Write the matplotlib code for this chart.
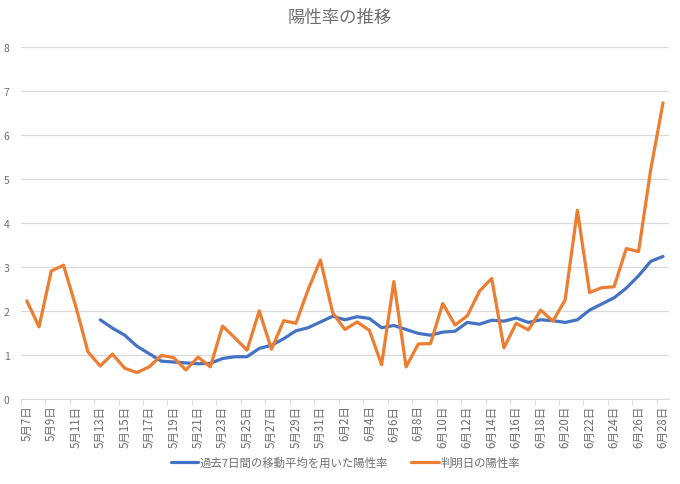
import numpy as np
import matplotlib
matplotlib.use("Agg")
import matplotlib.pyplot as plt

plt.rcParams['font.family'] = ['Noto Sans CJK JP', 'DejaVu Sans']

# dates 5/7 .. 6/28
dates = ["5月%d日" % d for d in range(7, 32)] + ["6月%d日" % d for d in range(1, 29)]

# 判明日の陽性率
daily = [2.23, 1.64, 2.91, 3.04, 2.11, 1.07, 0.75, 1.02, 0.70, 0.60,
         0.73, 0.99, 0.94, 0.66, 0.95, 0.73, 1.66, 1.39, 1.11, 2.00,
         1.13, 1.78, 1.72, 2.49, 3.16, 1.96, 1.58, 1.75, 1.56, 0.78,
         2.67, 0.73, 1.25, 1.26, 2.17, 1.68, 1.89, 2.45, 2.74, 1.16,
         1.72, 1.57, 2.02, 1.77, 2.25, 4.29, 2.42, 2.53, 2.55, 3.42,
         3.35, 5.22, 6.73]

# 過去7日間の移動平均 (starts 5/13)
avg7 = [np.nan] * 6 + [
         1.80, 1.61, 1.45, 1.20, 1.03, 0.86, 0.84, 0.82, 0.80, 0.81,
         0.92, 0.96, 0.96, 1.15, 1.22, 1.37, 1.55, 1.62, 1.75, 1.88,
         1.80, 1.87, 1.83, 1.62, 1.67, 1.58, 1.49, 1.45, 1.52, 1.54,
         1.74, 1.70, 1.79, 1.77, 1.84, 1.74, 1.80, 1.78, 1.74, 1.80,
         2.02, 2.16, 2.30, 2.52, 2.80, 3.13, 3.24]

label_avg = "過去7日間の移動平均を用いた陽性率"
label_daily = "判明日の陽性率"

x = np.arange(len(dates))

fig = plt.figure(figsize=(6.8, 4.85), dpi=100)
ax = fig.add_axes([0.0304, 0.1753, 0.9536, 0.7257])

ax.plot(x, avg7, color='#4472C4', lw=2.3, label=label_avg, solid_capstyle='round')
ax.plot(x, daily, color='#ED7D31', lw=2.3, label=label_daily, solid_capstyle='round')

ax.set_xlim(-0.5, len(dates) - 0.5)
ax.set_ylim(0, 8)
ax.set_yticks(range(0, 9))
ax.yaxis.grid(True, color='#d9d9d9', lw=0.9)
ax.set_axisbelow(True)
for s in ['top', 'right', 'left']:
    ax.spines[s].set_visible(False)
ax.spines['bottom'].set_color('#d9d9d9')
ax.tick_params(axis='y', length=0, labelsize=7.5, labelcolor='#6e6e6e', pad=8)

ax.set_xticks(x[::2])
ax.set_xticklabels(dates[::2], rotation=90, fontsize=8.3, color='#6e6e6e')
ax.set_xticks(np.arange(-0.5, len(dates), 2), minor=True)
ax.tick_params(axis='x', which='major', length=0, pad=4)
ax.tick_params(axis='x', which='minor', length=4, color='#d9d9d9')

fig.text(0.5, 0.963, "陽性率の推移", ha='center', va='center', fontsize=12.5, color='#707070')

fig.legend(loc='center', bbox_to_anchor=(0.508, 0.045), ncol=2, frameon=False,
           fontsize=8.2, handlelength=2.4, handletextpad=0.15, columnspacing=2.0,
           labelcolor='#6e6e6e')

fig.savefig("out.png", dpi=100)
